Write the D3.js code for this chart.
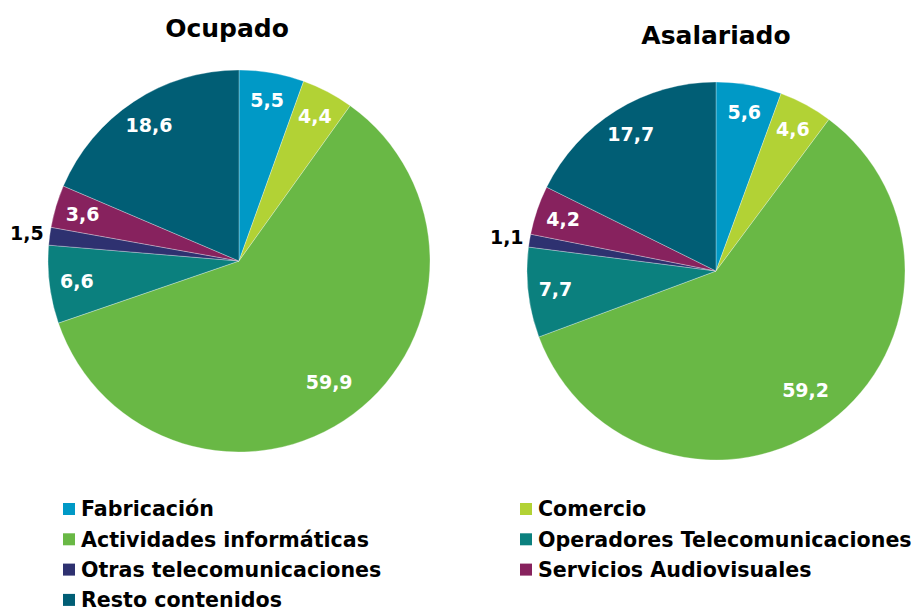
<!DOCTYPE html>
<html>
<head>
<meta charset="utf-8">
<script src="https://cdn.jsdelivr.net/npm/d3@7"></script>
<style>
  body { margin: 0; background: #fff; }
  svg text { font-family: Verdana, 'DejaVu Sans', sans-serif; font-weight: bold; }
</style>
</head>
<body>
<div id="chart"></div>
<script>
// categories, clockwise from 12 o'clock
var categories = ['Fabricación', 'Comercio', 'Actividades informáticas', 'Operadores Telecomunicaciones',
  'Otras telecomunicaciones', 'Servicios Audiovisuales', 'Resto contenidos']
var colors = ['#0099c6', '#b2d235', '#69b845', '#0b807e', '#2e3170', '#87225e', '#015e75']

var ocupado = [5.5, 4.4, 59.9, 6.6, 1.5, 3.6, 18.6]
var asalariado = [5.6, 4.6, 59.2, 7.7, 1.1, 4.2, 17.7]
var titles = ['Ocupado', 'Asalariado']

var width = 915
var height = 612

var svg = d3.select('#chart').append('svg')
  .attr('width', width)
  .attr('height', height)

var color = d3.scaleOrdinal().domain(categories).range(colors)
var fmt = function (v) { return d3.format('.1f')(v).replace('.', ',') }

var pies = [
  { title: titles[0], values: ocupado, cx: 239, cy: 261, r: 191, ty: 37, tx: 227 },
  { title: titles[1], values: asalariado, cx: 716, cy: 271, r: 189, ty: 44, tx: 716 }
]

var pie = d3.pie().sort(null).value(function (d) { return d.value })

pies.forEach(function (p) {
  var data = categories.map(function (c, i) { return { name: c, value: p.values[i] } })
  var arcs = pie(data)
  var arc = d3.arc().innerRadius(0).outerRadius(p.r)

  var g = svg.append('g')
    .attr('transform', 'translate(' + p.cx + ',' + p.cy + ')')

  g.selectAll('path')
    .data(arcs)
    .enter().append('path')
    .attr('d', arc)
    .style('fill', function (d) { return color(d.data.name) })
    .style('stroke', '#fff')
    .style('stroke-width', 0.6)
    .style('stroke-opacity', 0.5)

  // data labels: inside for most slices, outside for the thin one
  g.selectAll('.label')
    .data(arcs)
    .enter().append('text')
    .attr('class', 'label')
    .attr('transform', function (d) {
      var a = (d.startAngle + d.endAngle) / 2
      var rr
      if (d.data.value < 2) rr = p.r + 23
      else if (d.data.value > 50) rr = p.r * 0.79
      else rr = p.r * 0.855
      return 'translate(' + (Math.sin(a) * rr) + ',' + (-Math.cos(a) * rr) + ')'
    })
    .attr('dy', '0.36em')
    .style('text-anchor', 'middle')
    .style('font-size', '19px')
    .style('fill', function (d) { return d.data.value < 2 ? '#000' : '#fff' })
    .text(function (d) { return fmt(d.data.value) })

  svg.append('text')
    .attr('x', p.tx)
    .attr('y', p.ty)
    .style('text-anchor', 'middle')
    .style('font-size', '25px')
    .text(p.title)
})

// legend, two columns
var legend = svg.append('g').attr('class', 'legend')
var item = legend.selectAll('g')
  .data(categories)
  .enter().append('g')
  .attr('transform', function (d, i) {
    var col = i % 2
    var row = Math.floor(i / 2)
    return 'translate(' + (col ? 520 : 63) + ',' + (509 + row * 30.3) + ')'
  })

item.append('rect')
  .attr('x', 0)
  .attr('y', -6)
  .attr('width', 12)
  .attr('height', 12)
  .style('fill', function (d) { return color(d) })

item.append('text')
  .attr('x', 18)
  .attr('dy', '0.36em')
  .style('font-size', '20.6px')
  .style('fill', '#000')
  .text(function (d) { return d })
</script>
</body>
</html>
